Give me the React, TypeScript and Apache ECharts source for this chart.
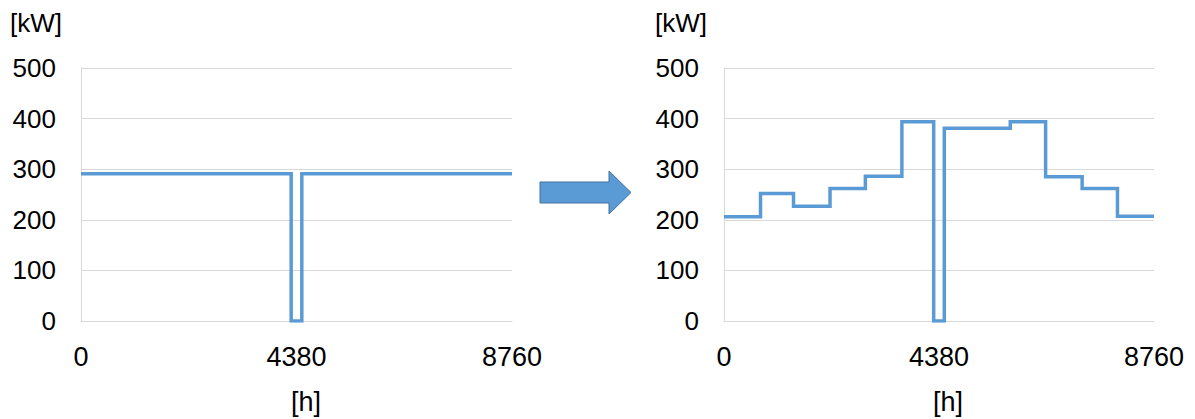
import React, { useEffect, useRef } from "react";
import * as echarts from "echarts";

// Left chart: hourly output over a year (flat with outage)
const leftBounds = [0, 4272, 4488, 8760];
const leftValues = [291, 0, 291];

// Right chart: monthly-varying output with outage
const rightBounds = [0, 744, 1416, 2160, 2880, 3624, 4272, 4488, 5832, 6552, 7296, 8016, 8760];
const rightValues = [206, 252, 227, 262, 286, 394, 0, 381, 394, 285, 262, 207];

const yTicks = [0, 100, 200, 300, 400, 500];
const xTicks = [0, 4380, 8760];
const yUnit = "[kW]";
const xUnit = "[h]";

const LINE = "#5B9BD5";
const GRID = "#D9D9D9";
const FONT = "'Liberation Sans', Arial, sans-serif";

function stepData(bounds: number[], values: number[]) {
  const d: number[][] = values.map((v, i) => [bounds[i], v]);
  d.push([bounds[bounds.length - 1], values[values.length - 1]]);
  return d;
}

export default function App() {
  const ref = useRef<HTMLDivElement>(null);
  useEffect(() => {
    if (!ref.current) return;
    const chart = echarts.init(ref.current, undefined, { renderer: "svg" });
    const xAxisBase = (gridIndex: number) => ({
      type: "value" as const,
      gridIndex,
      min: xTicks[0],
      max: xTicks[xTicks.length - 1],
      interval: xTicks[1] - xTicks[0],
      axisLine: { show: true, lineStyle: { color: GRID, width: 1 } },
      axisTick: { show: false },
      splitLine: { show: false },
      axisLabel: {
        fontSize: 27,
        color: "#000",
        fontFamily: FONT,
        margin: 22,
        formatter: (v: number) => String(v),
      },
    });
    const yAxisBase = (gridIndex: number) => ({
      type: "value" as const,
      gridIndex,
      min: yTicks[0],
      max: yTicks[yTicks.length - 1],
      interval: yTicks[1] - yTicks[0],
      axisLine: { show: true, lineStyle: { color: GRID, width: 1 } },
      axisTick: { show: false },
      splitLine: { show: true, lineStyle: { color: GRID, width: 1 } },
      axisLabel: {
        fontSize: 26,
        color: "#000",
        fontFamily: FONT,
        margin: 25,
        formatter: (v: number) => String(v),
      },
    });
    const lineSeries = (idx: number, bounds: number[], values: number[]) => ({
      type: "line" as const,
      xAxisIndex: idx,
      yAxisIndex: idx,
      step: "end" as const,
      showSymbol: false,
      symbol: "none",
      lineStyle: { color: LINE, width: 3.5, join: "miter" as const },
      data: stepData(bounds, values),
    });
    chart.setOption({
      animation: false,
      backgroundColor: "#fff",
      grid: [
        { left: 81, right: 683, top: 68, bottom: 98 },
        { left: 724, right: 41, top: 68, bottom: 98 },
      ],
      xAxis: [xAxisBase(0), xAxisBase(1)],
      yAxis: [yAxisBase(0), yAxisBase(1)],
      series: [
        lineSeries(0, leftBounds, leftValues),
        lineSeries(1, rightBounds, rightValues),
      ],
      graphic: [
        {
          type: "text",
          left: 10,
          top: 10,
          style: { text: yUnit, fontSize: 26, fontFamily: FONT, fill: "#000" },
        },
        {
          type: "text",
          left: 655,
          top: 10,
          style: { text: yUnit, fontSize: 26, fontFamily: FONT, fill: "#000" },
        },
        {
          type: "text",
          left: 291,
          top: 388,
          style: { text: xUnit, fontSize: 27, fontFamily: FONT, fill: "#000" },
        },
        {
          type: "text",
          left: 933,
          top: 388,
          style: { text: xUnit, fontSize: 27, fontFamily: FONT, fill: "#000" },
        },
        {
          type: "polygon",
          shape: {
            points: [
              [540, 182],
              [609, 182],
              [609, 171],
              [631, 192.5],
              [609, 214],
              [609, 203],
              [540, 203],
            ],
          },
          style: { fill: "#5B9BD5", stroke: "#41719C", lineWidth: 1 },
        },
      ],
    });
    return () => chart.dispose();
  }, []);
  return (
    <div
      ref={ref}
      style={{ position: "fixed", left: 0, top: 0, width: 1195, height: 419 }}
    />
  );
}
